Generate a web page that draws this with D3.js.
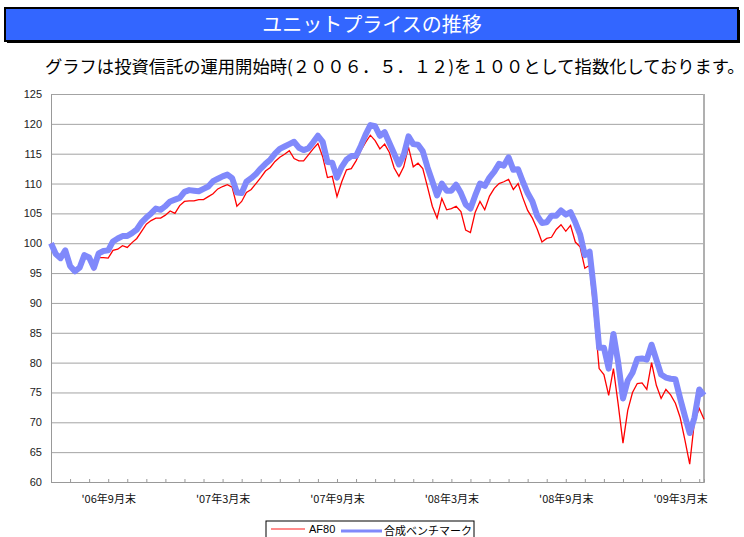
<!DOCTYPE html>
<html>
<head>
<meta charset="utf-8">
<script src="https://cdn.jsdelivr.net/npm/d3@7"></script>
<style>
    body { margin: 0; background: #fff; }
    #chart { width: 744px; height: 537px; }
</style>
</head>
<body>
<div id="chart"></div>
<script>
// data (one value every 4 sessions, start = 100)
const af80 = [
    100.0, 98.0, 97.3, 98.5, 96.0, 95.1, 95.6, 97.7, 97.3, 95.6,
    97.6, 97.6, 97.5, 98.8, 99.0, 99.6, 99.3, 100.1, 100.8, 102.0,
    103.2, 103.8, 104.2, 104.2, 104.7, 105.4, 105.0, 106.3, 107.0, 107.1,
    107.1, 107.3, 107.3, 107.8, 108.3, 109.1, 109.5, 109.8, 109.4, 106.2,
    107.0, 108.5, 109.0, 110.0, 111.0, 112.1, 112.7, 113.7, 114.4, 114.9,
    115.5, 114.2, 113.8, 113.8, 114.8, 115.8, 116.7, 114.5, 111.0, 111.2,
    107.8, 110.3, 112.3, 112.5, 113.8, 115.5, 116.9, 118.1, 117.2, 115.8,
    116.6, 115.2, 112.6, 111.2, 112.8, 116.1, 112.8, 113.4, 112.5, 109.4,
    106.2, 104.2, 107.5, 105.6, 105.8, 106.2, 105.3, 102.2, 101.8, 105.2,
    107.0, 105.6, 107.9, 109.2, 110.0, 110.3, 110.7, 109.0, 110.0, 107.6,
    105.5, 104.2, 102.4, 100.2, 100.8, 101.0, 102.3, 103.1, 102.0, 103.0,
    100.2, 99.4, 95.8, 96.3, 88.0, 79.0, 78.0, 74.5, 79.0, 73.0,
    66.5, 72.0, 75.0, 76.5, 76.6, 75.5, 80.0, 76.2, 74.0, 75.5,
    74.6, 73.2, 70.8, 67.0, 63.0, 70.2, 72.3, 70.5
];

const benchmark = [
    100.0, 98.2, 97.5, 98.8, 96.2, 95.3, 95.9, 98.0, 97.6, 95.9,
    98.3, 98.7, 98.8, 100.3, 100.8, 101.2, 101.2, 101.7, 102.3, 103.5,
    104.3, 105.0, 105.8, 105.6, 106.2, 107.0, 107.3, 107.6, 108.6, 108.9,
    108.8, 108.7, 109.1, 109.5, 110.4, 110.8, 111.2, 111.5, 110.9, 108.5,
    108.4, 110.3, 110.9, 111.6, 112.5, 113.3, 114.0, 115.0, 115.8, 116.2,
    116.6, 117.0, 116.0, 115.6, 115.9, 116.9, 118.0, 117.0, 113.6, 113.5,
    111.0, 112.8, 114.0, 114.6, 114.6, 116.3, 118.2, 119.8, 119.6, 118.0,
    118.6, 116.8, 115.0, 113.2, 114.8, 117.9, 116.6, 116.5, 115.4, 112.7,
    110.4, 108.0, 110.0, 108.8, 108.8, 109.8, 108.4, 106.5, 105.8, 108.0,
    110.0, 109.6, 111.0, 112.0, 113.3, 113.0, 114.4, 112.3, 112.4, 110.3,
    108.4, 107.0, 104.6, 103.4, 103.5, 104.6, 104.6, 105.5, 104.8, 105.2,
    103.5, 101.5, 98.0, 98.6, 91.5, 82.5, 82.5, 79.0, 84.8, 80.0,
    74.0, 77.0, 78.3, 80.6, 80.7, 80.5, 83.0, 80.5, 78.0, 77.5,
    77.3, 77.2, 74.0, 71.0, 68.2, 70.8, 75.5, 74.5
];

const xLabels = ["'06年9月末", "'07年3月末", "'07年9月末", "'08年3月末", "'08年9月末", "'09年3月末"];
const xLabelIndex = [12, 36, 60, 84, 108, 132];
const yTicks = [60, 65, 70, 75, 80, 85, 90, 95, 100, 105, 110, 115, 120, 125];
const seriesNames = ["AF80", "合成ベンチマーク"];

const title = "ユニットプライスの推移";
const subtitle = "グラフは投資信託の運用開始時(２００６．５．１２)を１００として指数化しております。";

const jp = "'Noto Sans CJK JP', 'Noto Sans', sans-serif";
const blueBand = "#8089fb";

const margin = { top: 94, right: 40, bottom: 55, left: 51 };
const width = 744;
const height = 537;
const plotWidth = width - margin.left - margin.right;
const plotHeight = height - margin.top - margin.bottom;

const svg = d3.select("#chart").append("svg")
    .attr("width", width)
    .attr("height", height);

// header bar
svg.append("rect")
    .attr("x", 7).attr("y", 10)
    .attr("width", 733).attr("height", 33)
    .attr("fill", "#000");
svg.append("rect")
    .attr("x", 5).attr("y", 8)
    .attr("width", 733).attr("height", 33)
    .attr("fill", "#3366ff")
    .attr("stroke", "#000")
    .attr("stroke-width", 2);
svg.append("text")
    .attr("x", 372).attr("y", 32)
    .attr("text-anchor", "middle")
    .attr("fill", "#fff")
    .style("font-family", jp)
    .style("font-size", "20px")
    .text(title);

svg.append("text")
    .attr("x", 45).attr("y", 73)
    .attr("fill", "#000")
    .style("font-family", jp)
    .style("font-size", "17.3px")
    .text(subtitle);

// scales
const x = d3.scaleLinear()
    .domain([0, af80.length - 1])
    .range([0, plotWidth]);

const y = d3.scaleLinear()
    .domain([60, 125])
    .range([plotHeight, 0]);

const plotArea = svg.append("g")
    .attr("transform", "translate(" + margin.left + "," + margin.top + ")");

// gridlines
plotArea.append("g")
    .call(d3.axisLeft(y).tickValues(yTicks).tickSize(-plotWidth).tickFormat(""))
    .call(g => g.select(".domain").remove())
    .selectAll("line")
    .attr("stroke", "#a3a3a3");

// right border
plotArea.append("line")
    .attr("x1", plotWidth).attr("x2", plotWidth)
    .attr("y1", 0).attr("y2", plotHeight)
    .attr("stroke", "#b0b0b0")
    .attr("stroke-width", 2);

// y axis
const yAxis = plotArea.append("g")
    .call(d3.axisLeft(y).tickValues(yTicks).tickSize(0).tickPadding(9));
yAxis.select(".domain").attr("stroke", "#999");
yAxis.selectAll("text")
    .style("font-family", "'Liberation Sans', Arial, sans-serif")
    .style("font-size", "11px")
    .attr("fill", "#222");

// x axis: small ticks every 4 points, labels every 24
const xAxis = plotArea.append("g")
    .attr("transform", "translate(0," + plotHeight + ")")
    .call(d3.axisBottom(x).tickValues(d3.range(0, af80.length, 4)).tickSize(-3).tickFormat(""));
xAxis.select(".domain").attr("stroke", "#999");
xAxis.selectAll("line").attr("stroke", "#999");

plotArea.append("g")
    .attr("transform", "translate(0," + plotHeight + ")")
    .call(d3.axisBottom(x).tickValues(xLabelIndex).tickSize(0).tickPadding(13)
        .tickFormat((d, i) => xLabels[i]))
    .call(g => g.select(".domain").remove())
    .selectAll("text")
    .style("font-family", jp)
    .style("font-size", "11px")
    .attr("fill", "#111");

// lines
const line = d3.line()
    .x((d, i) => x(i))
    .y(d => y(d));

plotArea.append("path")
    .datum(af80)
    .attr("fill", "none")
    .attr("stroke", "#ff0000")
    .attr("stroke-width", 1.3)
    .attr("d", line);

plotArea.append("path")
    .datum(benchmark)
    .attr("fill", "none")
    .attr("stroke", blueBand)
    .attr("stroke-width", 6)
    .attr("stroke-linejoin", "round")
    .attr("d", line);

// legend
const legend = svg.append("g").attr("transform", "translate(266,521)");
legend.append("rect")
    .attr("width", 208).attr("height", 22)
    .attr("fill", "#fff")
    .attr("stroke", "#000");
legend.append("line")
    .attr("x1", 5).attr("x2", 39).attr("y1", 8).attr("y2", 8)
    .attr("stroke", "#ff6666").attr("stroke-width", 1.5);
legend.append("text")
    .attr("x", 43).attr("y", 12)
    .style("font-family", "'Liberation Sans', Arial, sans-serif")
    .style("font-size", "11px")
    .text(seriesNames[0]);
legend.append("line")
    .attr("x1", 75).attr("x2", 116).attr("y1", 10).attr("y2", 10)
    .attr("stroke", blueBand).attr("stroke-width", 3);
legend.append("text")
    .attr("x", 118).attr("y", 13.5)
    .style("font-family", jp)
    .style("font-size", "11px")
    .text(seriesNames[1]);
</script>
</body>
</html>
